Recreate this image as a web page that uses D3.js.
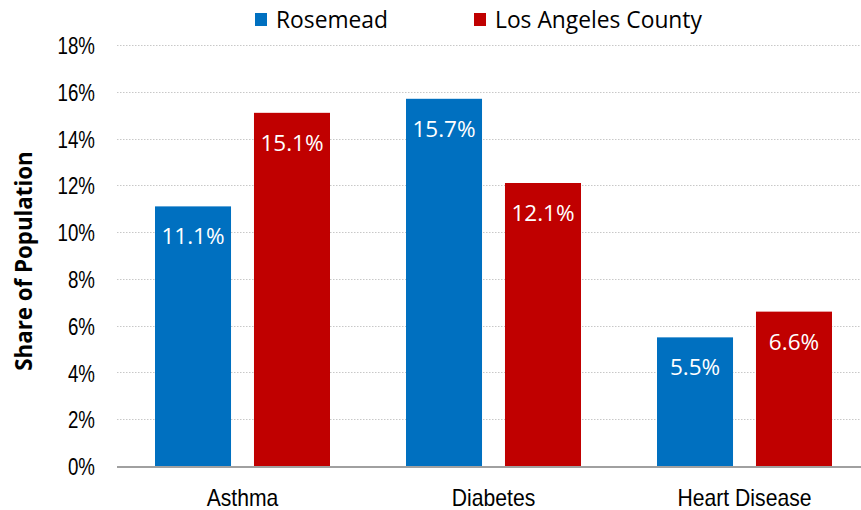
<!DOCTYPE html>
<html>
<head>
<meta charset="utf-8">
<script src="https://cdn.jsdelivr.net/npm/d3@7"></script>
<style>
  html, body { margin: 0; padding: 0; background: #fff; }
  svg { display: block; }
</style>
</head>
<body>
<svg id="chart" width="861" height="510"></svg>
<script>
// Health conditions, share of population
const categories = ["Asthma", "Diabetes", "Heart Disease"];
const seriesNames = ["Rosemead", "Los Angeles County"];
const rosemead = [11.1, 15.7, 5.5];
const laCounty = [15.1, 12.1, 6.6];
const yTicks = [0, 2, 4, 6, 8, 10, 12, 14, 16, 18];
const colors = ["#0070C0", "#C00000"];

const svg = d3.select("#chart");
const W = 861, H = 510;
const plot = { left: 117, right: 870, top: 45, bottom: 466 };

const x0 = d3.scaleBand().domain(categories)
  .range([plot.left, plot.right]).paddingInner(0).paddingOuter(0);
const x1 = d3.scaleBand().domain(seriesNames)
  .range([38, x0.bandwidth() - 38]).paddingInner(0.232);
const y = d3.scaleLinear().domain([0, 18]).range([plot.bottom, plot.top]);

const tickFont = "'Liberation Sans', Arial, sans-serif";
const bodyFont = "'Open Sans', sans-serif";

// Gridlines
const grid = svg.append("g").attr("class", "grid");
grid.selectAll("line").data(yTicks.filter(d => d > 0)).join("line")
  .attr("x1", plot.left).attr("x2", W)
  .attr("y1", d => Math.round(y(d)) + 0.5).attr("y2", d => Math.round(y(d)) + 0.5)
  .attr("stroke", "#c8c8c8").attr("stroke-width", 1)
  .attr("stroke-dasharray", "1.5,1.5");

// Y axis tick labels (condensed look via horizontal scaling)
const yAxis = d3.axisLeft(y).tickValues(yTicks).tickFormat(d => d + "%").tickSize(0).tickPadding(0);
const ya = svg.append("g").attr("transform", `translate(${plot.left - 22},0)`).call(yAxis);
ya.select(".domain").remove();
ya.selectAll(".tick text")
  .attr("font-family", tickFont).attr("font-size", 24).attr("fill", "#000")
  .attr("x", 0).attr("dy", "0.36em")
  .attr("transform", "scale(0.78,1)");

// Bars
const data = categories.map((c, i) => ({ cat: c, vals: [rosemead[i], laCounty[i]] }));
const groups = svg.append("g").selectAll("g").data(data).join("g")
  .attr("transform", d => `translate(${x0(d.cat)},0)`);

groups.selectAll("rect").data(d => d.vals.map((v, j) => ({ v, s: seriesNames[j], j })))
  .join("rect")
  .attr("x", d => x1(d.s))
  .attr("width", x1.bandwidth())
  .attr("y", d => y(d.v))
  .attr("height", d => y(0) - y(d.v))
  .attr("fill", d => colors[d.j]);

groups.selectAll("text.val").data(d => d.vals.map((v, j) => ({ v, s: seriesNames[j], j })))
  .join("text").attr("class", "val")
  .attr("x", d => x1(d.s) + x1.bandwidth() / 2)
  .attr("y", d => y(d.v) + 38)
  .attr("text-anchor", "middle")
  .attr("font-family", bodyFont).attr("font-size", 22.5)
  .attr("fill", "#fff")
  .text(d => d.v.toFixed(1) + "%");

// Zero baseline
svg.append("line")
  .attr("x1", plot.left).attr("x2", W)
  .attr("y1", y(0) + 1).attr("y2", y(0) + 1)
  .attr("stroke", "#a0a0a0").attr("stroke-width", 2);

// X axis labels
const xAxis = d3.axisBottom(x0).tickSize(0).tickPadding(0);
const xa = svg.append("g").attr("transform", `translate(0,${plot.bottom})`).call(xAxis);
xa.select(".domain").remove();
xa.selectAll(".tick text")
  .attr("font-family", tickFont).attr("font-size", 23).attr("fill", "#000")
  .attr("dy", null).attr("y", 40)
  .attr("transform", "scale(0.92,1)");

// Y axis title
svg.append("text")
  .attr("transform", `translate(32,${261}) rotate(-90)`)
  .attr("text-anchor", "middle")
  .attr("font-family", bodyFont).attr("font-size", 22.3).attr("font-weight", "bold")
  .attr("fill", "#000")
  .text("Share of Population");

// Legend
const legendPos = [255, 474];
const legend = svg.append("g").selectAll("g").data(seriesNames).join("g")
  .attr("transform", (d, i) => `translate(${legendPos[i]},0)`);
legend.append("rect").attr("x", 0).attr("y", 13).attr("width", 12).attr("height", 13)
  .attr("fill", (d, i) => colors[i]);
legend.append("text").attr("x", 21).attr("y", 28)
  .attr("font-family", bodyFont).attr("font-size", 22.8).attr("fill", "#000")
  .text(d => d);
</script>
</body>
</html>
